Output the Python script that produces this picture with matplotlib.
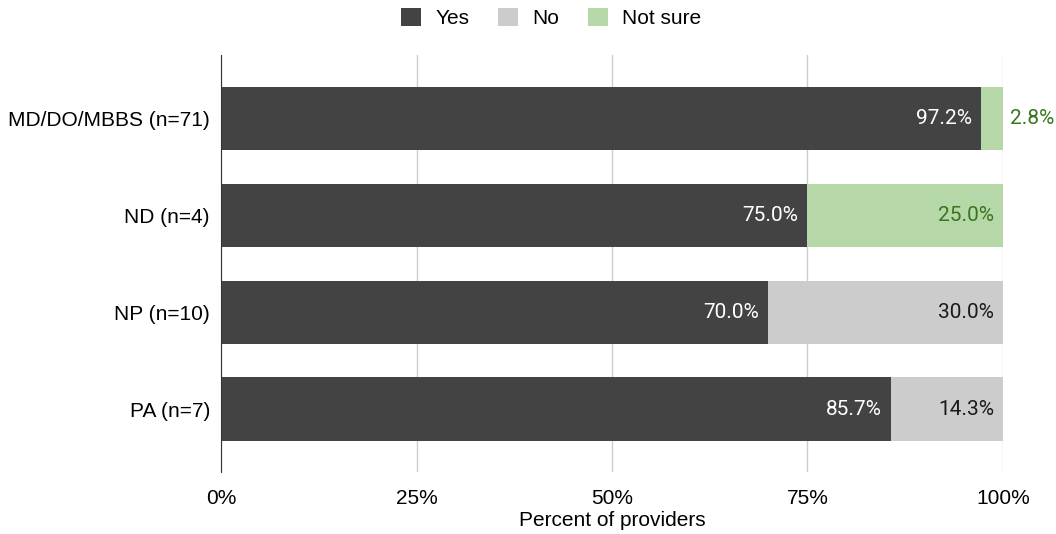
import matplotlib.pyplot as plt
from matplotlib.patches import Patch

categories = ['MD/DO/MBBS (n=71)', 'ND (n=4)', 'NP (n=10)', 'PA (n=7)']
yes = [97.2, 75.0, 70.0, 85.7]
no = [0.0, 0.0, 30.0, 14.3]
not_sure = [2.8, 25.0, 0.0, 0.0]
x_ticks = [0, 25, 50, 75, 100]

series_names = ['Yes', 'No', 'Not sure']
colors = ['#434343', '#cccccc', '#b6d7a8']
text_colors = ['white', '#1a1a1a', '#38761d']

plt.rcParams['font.family'] = ['Liberation Sans', 'DejaVu Sans']

fig = plt.figure(figsize=(10.56, 5.34), dpi=100)
ax = fig.add_axes([0.2093, 0.116, 0.7405, 0.781])

pos = list(range(len(categories)))
left = [0.0] * len(categories)
for name, vals, col, tcol in zip(series_names, [yes, no, not_sure], colors, text_colors):
    ax.barh(pos, vals, left=left, height=0.65, color=col, zorder=3)
    for i, v in enumerate(vals):
        if v <= 0:
            continue
        end = left[i] + v
        lbl = '%.1f%%' % v
        if v < 5:
            # too narrow, put the label past the bar end
            ax.annotate(lbl, (end, i), xytext=(5, 0), textcoords='offset points',
                        ha='left', va='center', color=tcol, fontsize=15,
                        family=['Roboto', 'DejaVu Sans'])
        else:
            ax.annotate(lbl, (end, i), xytext=(-6.5, 0), textcoords='offset points',
                        ha='right', va='center', color=tcol, fontsize=15,
                        family=['Roboto', 'DejaVu Sans'])
    left = [l + v for l, v in zip(left, vals)]

ax.set_xlim(0, 100)
ax.set_ylim(3.65, -0.65)
ax.set_yticks(pos)
ax.set_yticklabels(categories, fontsize=15)
ax.set_xticks(x_ticks)
ax.set_xticklabels(['%d%%' % t for t in x_ticks], fontsize=15)
ax.tick_params(axis='both', length=0, pad=8)
ax.tick_params(axis='x', pad=12)
ax.grid(axis='x', color='#cccccc', linewidth=1, zorder=0)
for s in ['top', 'right', 'bottom']:
    ax.spines[s].set_visible(False)
ax.spines['left'].set_color('#333333')
ax.spines['left'].set_zorder(4)
ax.set_xlabel('Percent of providers', fontsize=15, labelpad=2)

handles = [Patch(facecolor=c, edgecolor='none') for c in colors]
fig.legend(handles, series_names, loc='center', bbox_to_anchor=(0.522, 0.967),
           ncol=3, frameon=False, fontsize=15, handlelength=0.95, handleheight=0.95,
           columnspacing=1.4, handletextpad=0.67)

fig.savefig('out.png', dpi=100)
